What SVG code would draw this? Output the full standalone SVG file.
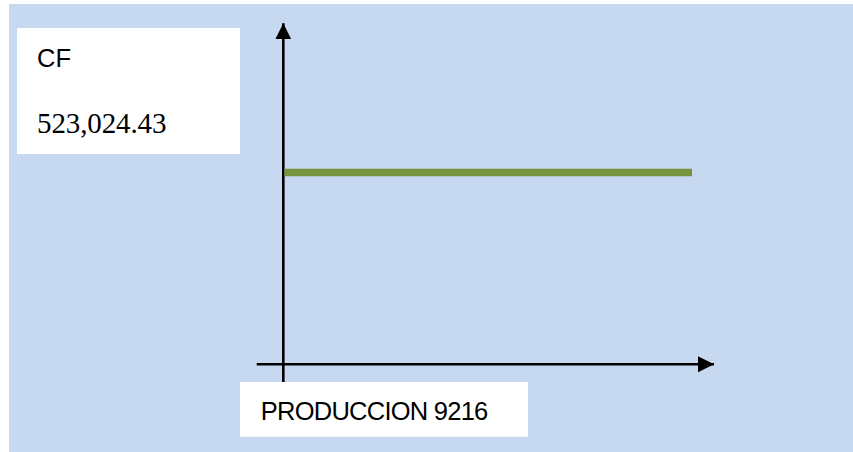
<svg xmlns="http://www.w3.org/2000/svg" width="853" height="452" viewBox="0 0 853 452">
<style>
.box{fill:#ffffff;stroke:none}
.sans{font-family:"Liberation Sans",Arial,sans-serif;font-size:25.5px;fill:#000000}
.axis{stroke:#000000;stroke-width:2.6;fill:none}
</style>
<defs>
<marker id="arr" markerUnits="userSpaceOnUse" markerWidth="16" markerHeight="16" viewBox="0 0 16 16" refX="16" refY="8" orient="auto">
<path d="M0,0 L16,8 L0,16 Z" fill="#000000"/>
</marker>
</defs>
<rect x="0" y="0" width="853" height="452" fill="#ffffff"/>
<rect x="9" y="4" width="844" height="448" fill="#C6D9F0"/>
<g id="cf-label">
<rect class="box" x="17" y="28" width="223" height="126"/>
<text class="sans" x="37" y="67.3">CF</text>
<text x="37" y="133.3" font-family="'Liberation Serif','Times New Roman',serif" font-size="29" fill="#000000" textLength="129.5">523,024.43</text>
</g>
<g id="connectors">
<line class="axis" x1="283.3" y1="382" x2="283.3" y2="23.3" marker-end="url(#arr)"/>
<line class="axis" x1="256.7" y1="364.3" x2="714" y2="364.3" marker-end="url(#arr)"/>
</g>
<g id="cost-line">
<line x1="284.5" y1="172.5" x2="692" y2="172.5" stroke="#77933C" stroke-width="7.5"/>
</g>
<g id="production-label">
<rect class="box" x="240" y="382" width="288" height="54.7"/>
<text class="sans" x="260.7" y="420" textLength="227.6">PRODUCCION 9216</text>
</g>
</svg>
